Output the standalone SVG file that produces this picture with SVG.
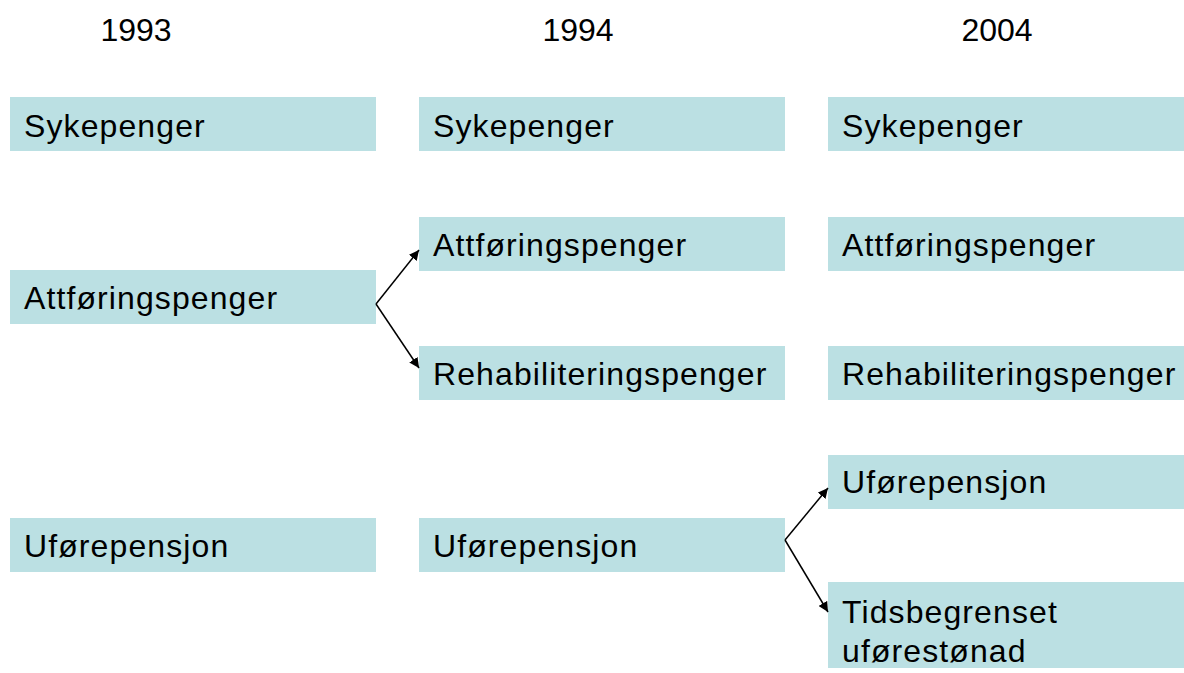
<svg xmlns="http://www.w3.org/2000/svg" width="1184" height="673" viewBox="0 0 1184 673">
<style>
.b{fill:#BBE0E3}
text{font-family:"Liberation Sans",Arial,sans-serif;font-size:32px;fill:#000;letter-spacing:1.1px}
.y{text-anchor:middle;letter-spacing:0}
.c{stroke:#000;stroke-width:1.5;fill:none}
</style>
<defs>
<marker id="a" viewBox="0 0 10 10" refX="10" refY="5" markerWidth="10" markerHeight="10" markerUnits="userSpaceOnUse" orient="auto">
<path d="M0,0 L10,5 L0,10 z" fill="#000"/>
</marker>
</defs>
<rect width="1184" height="673" fill="#fff"/>
<g id="years">
<text class="y" x="136" y="41">1993</text>
<text class="y" x="578" y="41">1994</text>
<text class="y" x="997" y="41">2004</text>
</g>
<g id="n1"><rect class="b" x="10" y="97" width="366" height="54"/><text x="24" y="137">Sykepenger</text></g>
<g id="n2"><rect class="b" x="419" y="97" width="366" height="54"/><text x="433" y="137">Sykepenger</text></g>
<g id="n3"><rect class="b" x="828" y="97" width="356" height="54"/><text x="842" y="137">Sykepenger</text></g>
<g id="n4"><rect class="b" x="10" y="270" width="366" height="54"/><text x="24" y="309">Attføringspenger</text></g>
<g id="n5"><rect class="b" x="419" y="217" width="366" height="54"/><text x="433" y="256">Attføringspenger</text></g>
<g id="n6"><rect class="b" x="828" y="217" width="356" height="54"/><text x="842" y="256">Attføringspenger</text></g>
<g id="n7"><rect class="b" x="419" y="346" width="366" height="54"/><text x="433" y="385">Rehabiliteringspenger</text></g>
<g id="n8"><rect class="b" x="828" y="346" width="356" height="54"/><text x="842" y="385">Rehabiliteringspenger</text></g>
<g id="n9"><rect class="b" x="10" y="518" width="366" height="54"/><text x="24" y="557">Uførepensjon</text></g>
<g id="n10"><rect class="b" x="419" y="518" width="366" height="54"/><text x="433" y="557">Uførepensjon</text></g>
<g id="n11"><rect class="b" x="828" y="455" width="356" height="54"/><text x="842" y="493">Uførepensjon</text></g>
<g id="n12"><rect class="b" x="828" y="582" width="356" height="86"/><text x="842" y="623">Tidsbegrenset</text><text x="842" y="662">uførestønad</text></g>
<g id="connectors">
<line class="c" x1="376" y1="304" x2="419" y2="250" marker-end="url(#a)"/>
<line class="c" x1="376" y1="304" x2="419" y2="368" marker-end="url(#a)"/>
<line class="c" x1="785" y1="540" x2="828" y2="488" marker-end="url(#a)"/>
<line class="c" x1="785" y1="540" x2="828" y2="612" marker-end="url(#a)"/>
</g>
</svg>
